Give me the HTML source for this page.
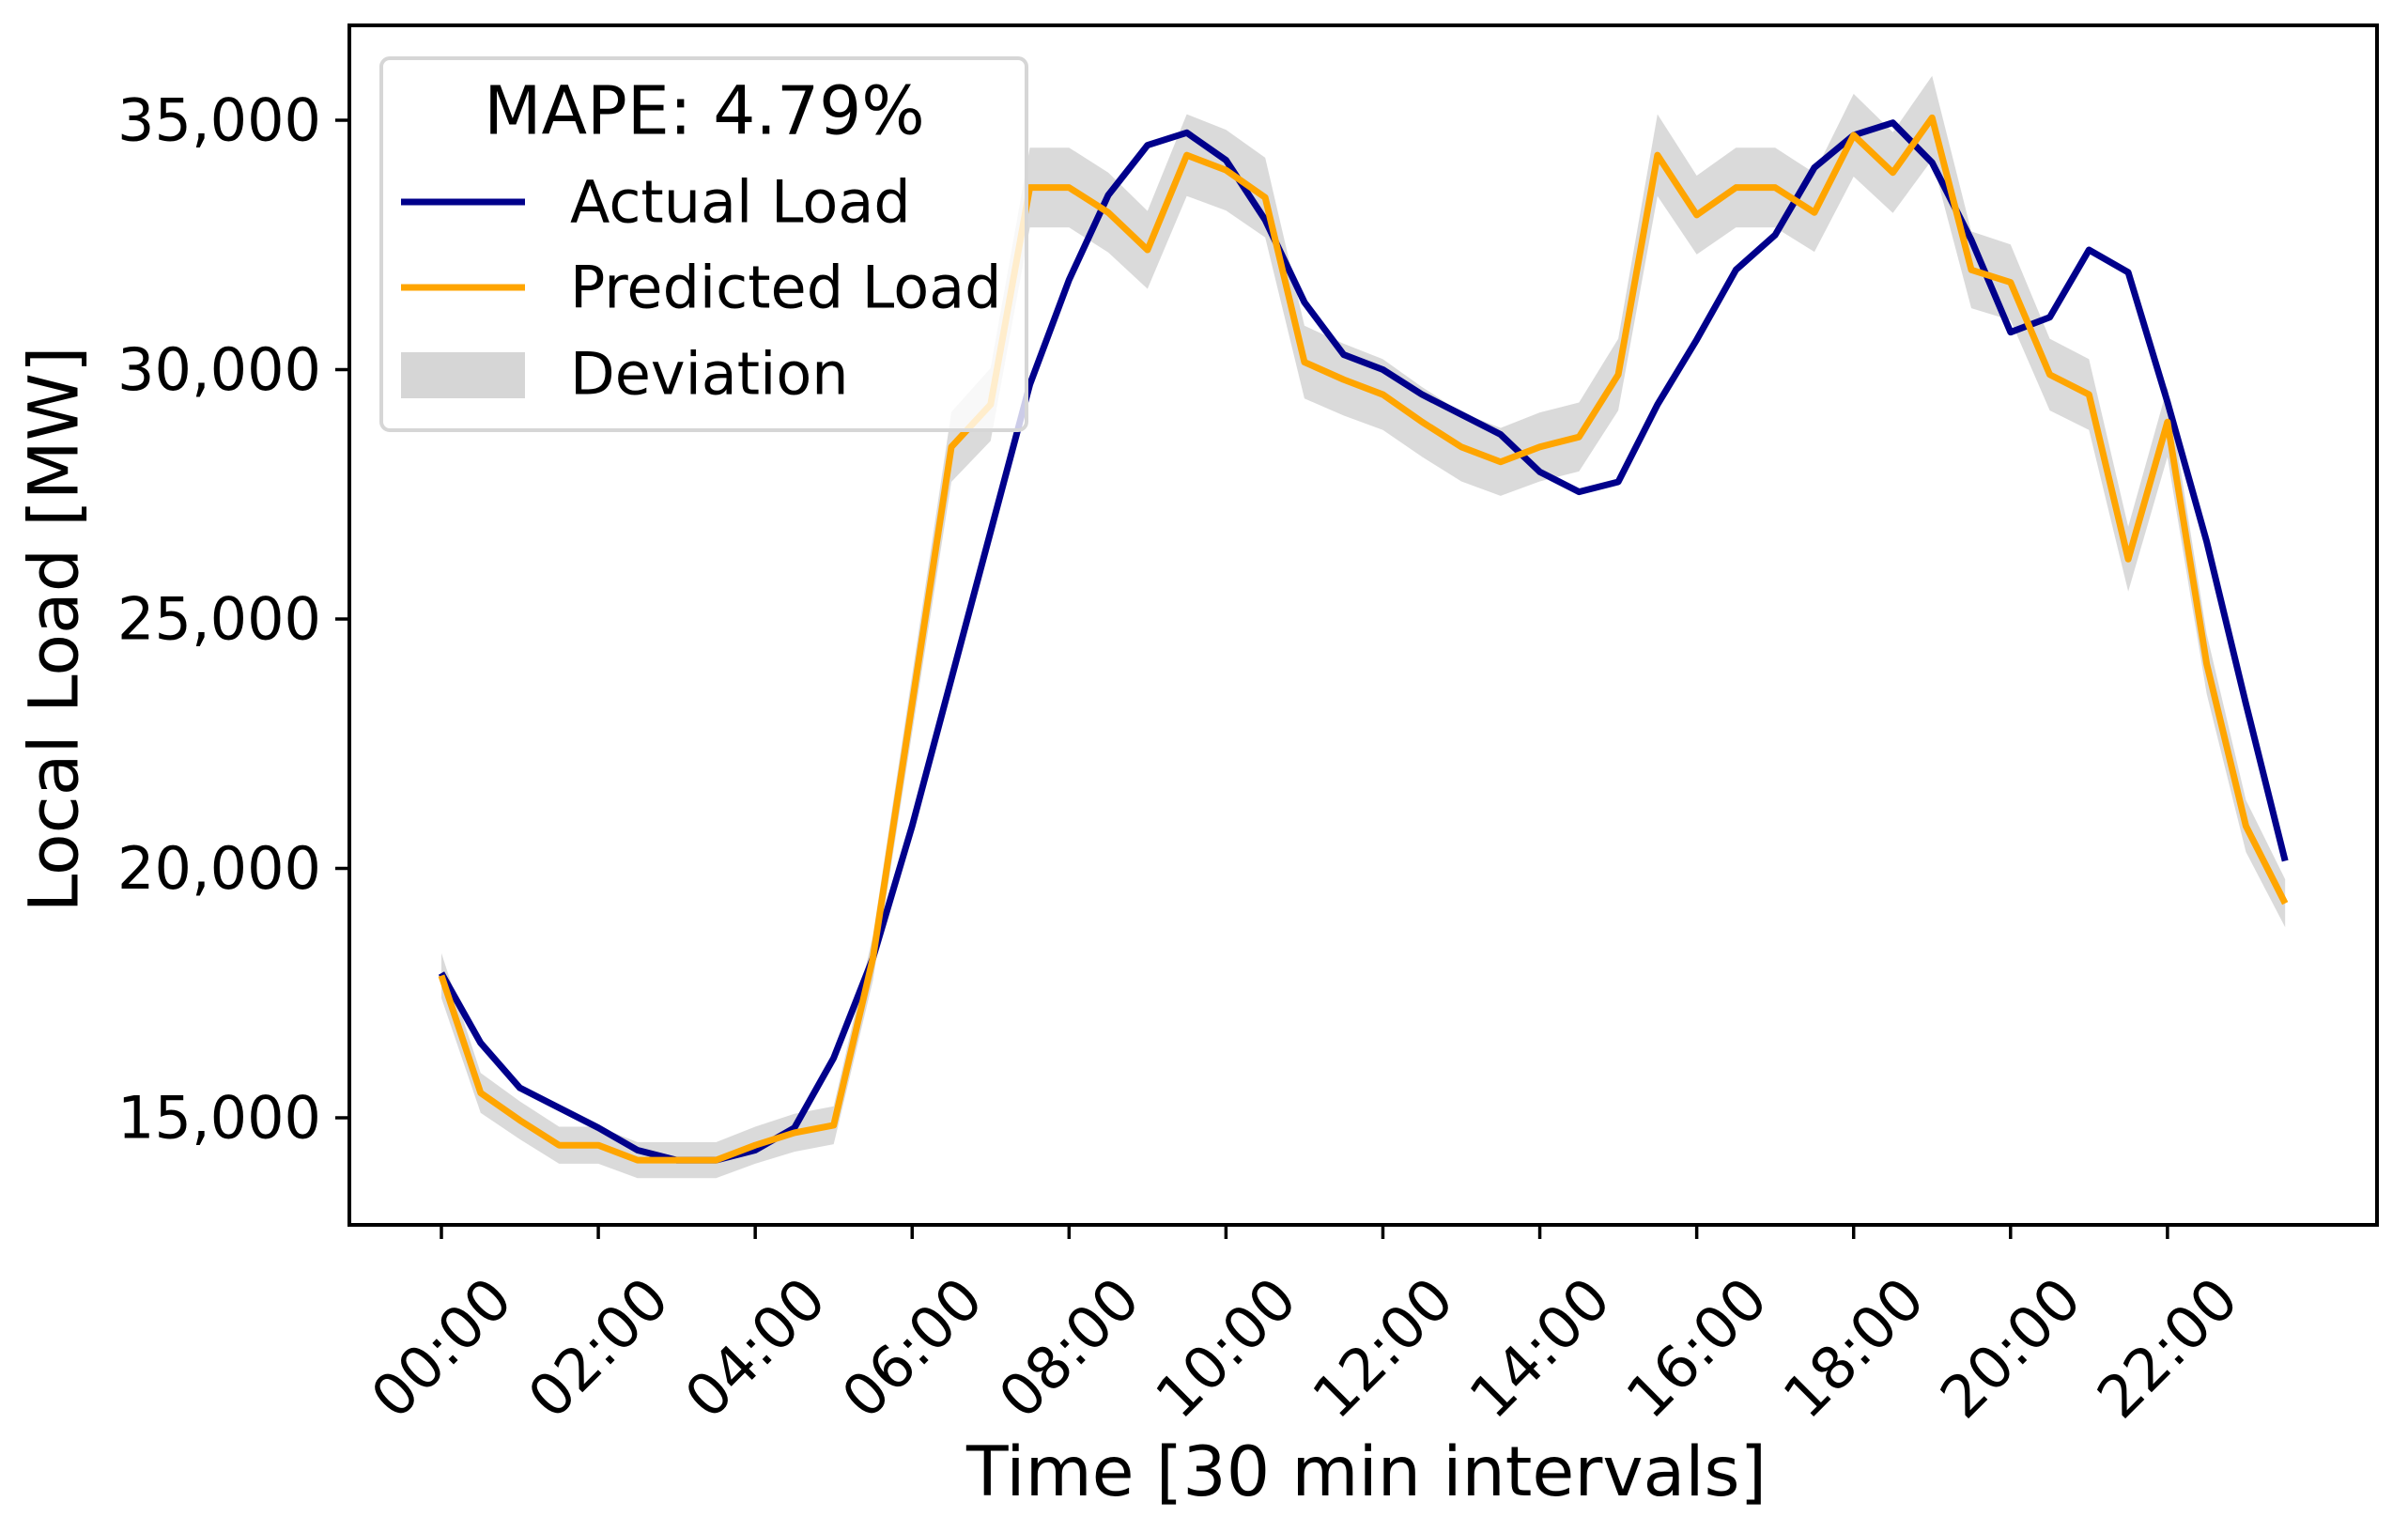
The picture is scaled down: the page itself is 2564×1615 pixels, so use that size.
<!DOCTYPE html>
<html><head><meta charset="utf-8"><style>
html,body{margin:0;padding:0;background:#fff}
svg{display:block;font-family:"DejaVu Sans","Liberation Sans",sans-serif}
</style></head><body>
<svg id="chart" width="2564" height="1615" viewBox="0 0 2564 1615" xmlns="http://www.w3.org/2000/svg">
<rect width="2564" height="1615" fill="#fff"/>
<g id="plot"></g>
</svg>
<script>
const actualLoad=[17900,16500,15600,15200,14800,14350,14150,14150,14350,14800,16200,18200,20850,23800,26750,29700,31800,33500,34500,34750,34200,33000,31350,30300,30000,29500,29100,28700,27950,27550,27750,29300,30600,32000,32700,34050,34700,34950,34150,32600,30750,31050,32400,31950,29350,26550,23300,20150];
const predictedLoad=[17850,15500,14950,14450,14450,14150,14150,14150,14450,14700,14850,18200,23300,28450,29300,33650,33650,33150,32400,34300,34000,33450,30150,29800,29500,28950,28450,28150,28450,28650,29900,34300,33100,33650,33650,33150,34700,33950,35050,32000,31750,29900,29500,26200,28950,24100,20850,19300];
const deviation=[450,400,380,370,370,360,360,360,370,380,380,450,580,700,730,800,800,800,780,820,810,800,730,720,710,700,690,680,690,690,720,820,790,800,800,790,830,810,840,770,760,720,710,650,700,600,520,480];
const yTicks=[15000,20000,25000,30000,35000];
const yTickLabels=["15,000","20,000","25,000","30,000","35,000"];
const xTickIdx=[0,4,8,12,16,20,24,28,32,36,40,44];
const xTickLabels=["00:00","02:00","04:00","06:00","08:00","10:00","12:00","14:00","16:00","18:00","20:00","22:00"];

const NS="http://www.w3.org/2000/svg";
const L=372,R=2531,T=27,B=1304;
function xs(i){return 470+i*41.77;}
function ys(v){return 1190-(v-15000)*0.0531;}
const g=document.getElementById('plot');
function mk(tag,attrs,parent){const e=document.createElementNS(NS,tag);for(const k in attrs)e.setAttribute(k,attrs[k]);(parent||g).appendChild(e);return e;}

let up=predictedLoad.map((v,i)=>xs(i)+','+ys(v+deviation[i]));
let dn=predictedLoad.map((v,i)=>xs(i)+','+ys(v-deviation[i])).reverse();
const band=mk('polygon',{points:up.concat(dn).join(' '),fill:'#d3d3d3','fill-opacity':'0.85'});


const la=mk('polyline',{points:actualLoad.map((v,i)=>xs(i)+','+ys(v)).join(' '),fill:'none',stroke:'#00008b','stroke-width':'7','stroke-linejoin':'round'});


const lp=mk('polyline',{points:predictedLoad.map((v,i)=>xs(i)+','+ys(v)).join(' '),fill:'none',stroke:'#ffa500','stroke-width':'7','stroke-linejoin':'round'});



const fr=mk('rect',{x:L,y:T,width:R-L,height:B-T,fill:'none',stroke:'#000','stroke-width':'4'});



yTicks.forEach((v,k)=>{
  const y=ys(v);
  const t=mk('line',{x1:L,x2:L-15,y1:y,y2:y,stroke:'#000','stroke-width':'3.5'});
  
  
  const tx=mk('text',{x:L-30,y:y,'text-anchor':'end','dominant-baseline':'central','font-size':'62'});
  tx.textContent=yTickLabels[k];
  
  
});
xTickIdx.forEach((idx,k)=>{
  const x=xs(idx);
  const t=mk('line',{x1:x,x2:x,y1:B,y2:B+15,stroke:'#000','stroke-width':'3.5'});
  
  
  const tx=mk('text',{x:0,y:0,'text-anchor':'middle','dominant-baseline':'central','font-size':'62',transform:'translate('+x+',1435) rotate(-45)'});
  tx.textContent=xTickLabels[k];
  
  
});
const xl=mk('text',{x:1455,y:1592,'text-anchor':'middle','font-size':'73'});
xl.textContent='Time [30 min intervals]';


const yl=mk('text',{x:0,y:0,'text-anchor':'middle','dominant-baseline':'central','font-size':'73',transform:'translate(58,670) rotate(-90)'});
yl.textContent='Local Load [MW]';



const lg=mk('g',{});


mk('rect',{x:406,y:62,width:687,height:396,rx:9,fill:'#fff','fill-opacity':'0.8',stroke:'#d6d6d6','stroke-width':'4'},lg);
const lt=mk('text',{x:750,y:118,'text-anchor':'middle','dominant-baseline':'central','font-size':'71'},lg);
lt.textContent='MAPE: 4.79%';


const e1=mk('line',{x1:427,x2:559,y1:215,y2:215,stroke:'#00008b','stroke-width':'7'},lg);


const e2=mk('line',{x1:427,x2:559,y1:306,y2:306,stroke:'#ffa500','stroke-width':'7'},lg);


const e3=mk('rect',{x:427,y:375,width:132,height:49,fill:'#d6d6d6'},lg);


[['Actual Load',215,'legend-actual-label'],['Predicted Load',306,'legend-predicted-label'],['Deviation',398,'legend-deviation-label']].forEach(a=>{
  const t=mk('text',{x:607,y:a[1],'dominant-baseline':'central','font-size':'62'},lg);
  t.textContent=a[0];
  
  
});
</script>
</body></html>
